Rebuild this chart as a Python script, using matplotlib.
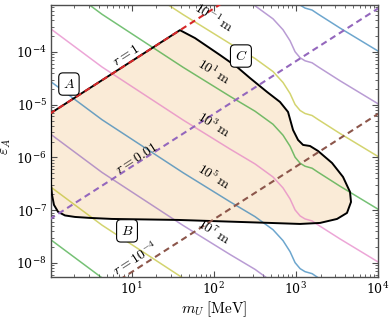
import numpy as np
import matplotlib
matplotlib.use("Agg")
import matplotlib.pyplot as plt

plt.rcParams['mathtext.fontset'] = 'cm'
plt.rcParams['font.family'] = ['DejaVu Serif']

# ---------------- data ----------------
x_limits = [1.04, 1.0e4]
y_limits = [5.4e-9, 7.8e-4]

# dashed lines r = const (straight in log-log), two end points each
r_line_mass = [1.0, 1.0e4]
r_line_eps = {
    r"$r=1$": [6.7e-6, 6.7e-2],
    r"$r=0.01$": [6.7e-8, 6.7e-4],
    r"$r=10^{-4}$": [6.7e-10, 6.7e-6],
}
r_line_colors = ['tab:red', 'tab:purple', 'tab:brown']

# decay-length contour, shape read from the 10^3 m line
decay_mass = [1.04, 4.35, 42.2, 157, 318, 526, 697, 849, 977, 1125,
              1291, 1574, 1862, 3444, 10000]
decay_log_eps_1e3m = [-3.564, -4.284, -5.289, -5.839, -6.123, -6.370,
                      -6.578, -6.787, -6.995, -7.109, -7.166, -7.204,
                      -7.280, -7.545, -7.981]
# vertical offset (decades) of each drawn contour relative to the 10^3 m line
decay_exponents = [-5, -3, -1, 1, 3, 5, 7, 9, 11]
decay_shift_decades = [4, 3, 2, 1, 0, -1, -2, -3, -4]
decay_colors = ['tab:blue', 'tab:purple', 'tab:olive', 'tab:green', 'tab:pink',
                'tab:blue', 'tab:purple', 'tab:olive', 'tab:green']
labelled_exponents = [-1, 1, 3, 5, 7]
decay_label_pos = [(101, 4.4e-4), (101, 4.18e-5), (101, 4.13e-6),
                   (101, 4.46e-7), (101, 3.87e-8)]

# boundary of the shaded region
region_mass = [1.04, 38.7, 59.0, 119, 192, 276, 445, 640, 802, 923, 1062,
               1222, 1486, 1858, 2754, 3750, 4560, 4690, 4190, 3170, 1968,
               1122, 484, 208, 36.6, 5.75, 3.10, 2.04, 1.54, 1.27, 1.13,
               1.07, 1.04]
region_eps = [6.98e-6, 2.6e-4, 1.84e-4, 8.77e-5, 5.2e-5, 3.21e-5, 1.75e-5,
              1.13e-5, 7.3e-6, 3.32e-6, 2.15e-6, 1.73e-6, 1.65e-6, 1.33e-6,
              7.87e-7, 4.27e-7, 2.22e-7, 1.43e-7, 8.87e-8, 6.82e-8, 5.73e-8,
              5.48e-8, 5.73e-8, 5.98e-8, 6.53e-8, 6.82e-8, 7.13e-8, 7.44e-8,
              7.94e-8, 9.27e-8, 1.26e-7, 1.95e-7, 3.01e-7]

r_label_pos = [(8.53, 8.8e-5), (11.6, 9.8e-7), (11.3, 1.19e-8)]
region_labels = ['$A$', '$B$', '$C$']
region_label_pos = [(1.72, 2.47e-5), (8.77, 4.05e-8), (214, 8.4e-5)]

# ---------------- figure ----------------
fig = plt.figure(figsize=(3.9, 3.18), dpi=100)
ax = fig.add_axes([51/390, 1-277/318, (378-51)/390, (277-5)/318])
ax.set_xscale('log')
ax.set_yscale('log')

ax.fill(region_mass, region_eps, facecolor='#faebd7', edgecolor='none', zorder=1)

base = np.array(decay_log_eps_1e3m)
for e, s, c in zip(decay_exponents, decay_shift_decades, decay_colors):
    ax.plot(decay_mass, 10 ** (base + s), color=c, alpha=0.65, lw=1.1, zorder=2)

ax.plot(region_mass + region_mass[:1], region_eps + region_eps[:1],
        color='black', lw=1.4, zorder=3)

for (lab, eps), c in zip(r_line_eps.items(), r_line_colors):
    ax.plot(r_line_mass, eps, color=c, lw=1.5, ls=(0, (3, 2)), zorder=4)

for (lab, _), (xm, ye) in zip(r_line_eps.items(), r_label_pos):
    ax.text(xm, ye, lab, rotation=32.7, ha='center', va='center',
            fontsize=10, zorder=6)

for e, (xm, ye) in zip(labelled_exponents, decay_label_pos):
    ax.text(xm, ye, r"$10^{%d}\,\mathrm{m}$" % e, rotation=-32,
            ha='center', va='center', fontsize=10, zorder=6)

for lab, (xm, ye) in zip(region_labels, region_label_pos):
    ax.text(xm, ye, lab, ha='center', va='center', fontsize=10, zorder=7,
            bbox=dict(boxstyle='round,pad=0.3,rounding_size=0.3',
                      fc='white', ec='black', lw=0.8))

ax.set_xlim(x_limits)
ax.set_ylim(y_limits)
ax.set_xlabel(r"$m_U\;[\mathrm{MeV}]$", fontsize=11)
ax.set_ylabel(r"$\varepsilon_A$", fontsize=11)
ax.xaxis.set_label_coords(0.5, -0.083)
ax.yaxis.set_label_coords(-0.115, 0.48)

ax.tick_params(which='both', direction='in', top=True, right=True,
               labelsize=9, color='0.3', pad=3)
ax.tick_params(which='major', length=4, width=0.8)
ax.tick_params(which='minor', length=2, width=0.6)
ax.xaxis.set_minor_locator(matplotlib.ticker.LogLocator(base=10, subs=np.arange(2, 10), numticks=20))
ax.yaxis.set_minor_locator(matplotlib.ticker.LogLocator(base=10, subs=np.arange(2, 10), numticks=20))
for sp in ax.spines.values():
    sp.set_color('0.3')
    sp.set_linewidth(1.0)

fig.savefig('out.png', dpi=100)
